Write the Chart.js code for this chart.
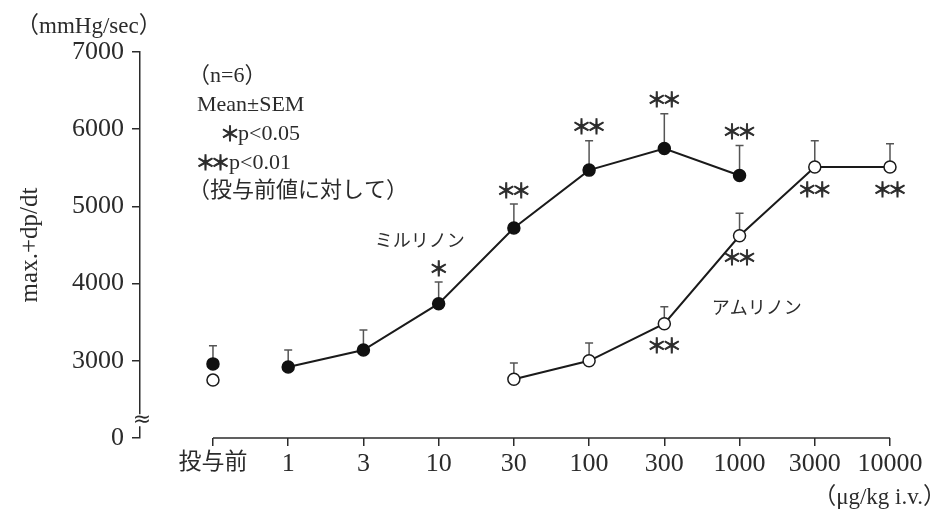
<!DOCTYPE html>
<html>
<head>
<meta charset="utf-8">
<script src="https://cdn.jsdelivr.net/npm/chart.js@4"></script>
<style>
  body { margin: 0; background: #fff; }
</style>
</head>
<body>
<canvas id="dpdtChart" width="946" height="513"></canvas>
<script>
// dose axis (category positions 0..9)
const doseLabels = ['投与前', '1', '3', '10', '30', '100', '300', '1000', '3000', '10000'];

// y axis is broken: 2000 is shown as "0"
const yTicks = [2000, 3000, 4000, 5000, 6000, 7000];
const yTickText = ['0', '3000', '4000', '5000', '6000', '7000'];

// ミルリノン (filled)
const milMean = [2960, 2920, 3140, 3740, 4720, 5470, 5750, 5400, null, null];
const milSem  = [235, 220, 260, 280, 310, 380, 450, 390, null, null];
const milSig  = ['', '', '', '*', '**', '**', '**', '**', '', ''];

// アムリノン (open)
const amrMean = [2750, null, null, null, 2760, 3000, 3480, 4620, 5510, 5510];
const amrSem  = [null, null, null, null, 210, 230, 220, 290, 340, 300];
const amrSig  = ['', '', '', '', '', '', '**', '**', '**', '**'];

const serif = "'Liberation Serif', 'Noto Sans CJK JP', serif";
const ink = '#2b2b2b';

function toXY(arr) {
  return arr.map((v, i) => ({ x: i, y: v }));
}

// draw a row of asterisks centred on x
function drawStars(ctx, str, cx, cy) {
  ctx.save();
  ctx.font = "20px 'Noto Sans CJK JP'";
  ctx.fillStyle = ink;
  ctx.strokeStyle = ink;
  ctx.lineWidth = 0.9;
  ctx.textAlign = 'center';
  ctx.textBaseline = 'middle';
  const step = 15;
  const start = cx - (str.length - 1) * step / 2;
  for (let i = 0; i < str.length; i++) {
    ctx.fillText('＊', start + i * step, cy);
    ctx.strokeText('＊', start + i * step, cy);
  }
  ctx.restore();
}

const extrasPlugin = {
  id: 'extras',
  beforeDatasetsDraw(chart) {
    const { ctx, scales: { x, y } } = chart;
    ctx.save();
    ctx.strokeStyle = '#555';
    ctx.lineWidth = 1.5;
    const bars = [[milMean, milSem], [amrMean, amrSem]];
    bars.forEach(([mean, sem]) => {
      mean.forEach((m, i) => {
        if (m == null || sem[i] == null) return;
        const px = x.getPixelForValue(i);
        const y0 = y.getPixelForValue(m);
        const y1 = y.getPixelForValue(m + sem[i]);
        ctx.beginPath();
        ctx.moveTo(px, y0);
        ctx.lineTo(px, y1);
        ctx.moveTo(px - 4, y1);
        ctx.lineTo(px + 4, y1);
        ctx.stroke();
      });
    });
    ctx.restore();
  },
  afterDraw(chart) {
    const { ctx, chartArea, scales: { x, y } } = chart;
    ctx.save();

    // x axis line, only from first to last dose
    ctx.strokeStyle = ink;
    ctx.lineWidth = 1.5;
    ctx.beginPath();
    ctx.moveTo(x.getPixelForValue(0), chartArea.bottom);
    ctx.lineTo(x.getPixelForValue(doseLabels.length - 1), chartArea.bottom);
    ctx.stroke();

    // axis break mark
    const by = y.getPixelForValue(2230);
    ctx.fillStyle = '#fff';
    ctx.fillRect(chartArea.left - 2, by - 6, 4, 12);
    ctx.fillStyle = ink;
    ctx.font = "22px 'DejaVu Sans'";
    ctx.textAlign = 'center';
    ctx.textBaseline = 'middle';
    ctx.fillText('≈', chartArea.left + 2, by);

    // significance marks
    milSig.forEach((s, i) => {
      if (!s) return;
      const top = y.getPixelForValue(milMean[i] + milSem[i]);
      drawStars(ctx, s, x.getPixelForValue(i), top - 14);
    });
    amrSig.forEach((s, i) => {
      if (!s) return;
      drawStars(ctx, s, x.getPixelForValue(i), y.getPixelForValue(amrMean[i]) + 22);
    });

    // unit + axis title
    ctx.fillStyle = ink;
    ctx.font = '23px ' + serif;
    ctx.textAlign = 'left';
    ctx.textBaseline = 'alphabetic';
    ctx.fillText('（mmHg/sec）', 16, 33);

    ctx.save();
    ctx.translate(37, 245);
    ctx.rotate(-Math.PI / 2);
    ctx.textAlign = 'center';
    ctx.font = '25px ' + serif;
    ctx.fillText('max.+dp/dt', 0, 0);
    ctx.restore();

    // notes block
    const nx = chartArea.left + 57;
    ctx.font = '22px ' + serif;
    ctx.fillText('（n=6）', nx - 9, 82);
    ctx.fillText('Mean±SEM', nx, 111);
    drawStars(ctx, '*', nx + 33, 133);
    ctx.font = '22px ' + serif;
    ctx.fillStyle = ink;
    ctx.textAlign = 'left';
    ctx.fillText('p<0.05', nx + 41, 140);
    drawStars(ctx, '**', nx + 16, 162);
    ctx.font = '22px ' + serif;
    ctx.fillStyle = ink;
    ctx.textAlign = 'left';
    ctx.fillText('p<0.01', nx + 32, 169);
    ctx.fillText('（投与前値に対して）', nx - 9, 197);

    // series names
    ctx.font = "18px 'Noto Sans CJK JP'";
    ctx.textAlign = 'center';
    ctx.textBaseline = 'middle';
    ctx.fillText('ミルリノン', x.getPixelForValue(2.75), y.getPixelForValue(4565));
    ctx.fillText('アムリノン', x.getPixelForValue(7.23), y.getPixelForValue(3697));

    // dose unit
    ctx.font = '23px ' + serif;
    ctx.textAlign = 'right';
    ctx.textBaseline = 'alphabetic';
    ctx.fillText('（μg/kg i.v.）', 946, 504);

    ctx.restore();
  }
};

new Chart(document.getElementById('dpdtChart'), {
  type: 'line',
  data: {
    datasets: [
      {
        label: 'ミルリノン',
        data: toXY(milMean),
        borderColor: '#1a1a1a',
        borderWidth: 2,
        pointRadius: 6,
        pointBackgroundColor: '#111',
        pointBorderColor: '#111',
        pointBorderWidth: 1.5,
        spanGaps: false,
        clip: false,
        // baseline point is not joined to the dose curve
        segment: {
          borderColor: c => c.p0DataIndex === 0 ? 'rgba(0,0,0,0)' : '#1a1a1a'
        }
      },
      {
        label: 'アムリノン',
        data: toXY(amrMean),
        borderColor: '#1a1a1a',
        borderWidth: 2,
        pointRadius: 6,
        pointBackgroundColor: '#fff',
        pointBorderColor: '#1a1a1a',
        pointBorderWidth: 1.5,
        spanGaps: false,
        clip: false
      }
    ]
  },
  options: {
    responsive: false,
    animation: false,
    layout: { padding: { top: 52, right: 56, bottom: 0, left: 0 } },
    plugins: {
      legend: { display: false },
      tooltip: { enabled: false }
    },
    scales: {
      x: {
        type: 'linear',
        min: -0.97,
        max: 9,
        afterBuildTicks: s => { s.ticks = doseLabels.map((_, i) => ({ value: i })); },
        afterFit: s => { s.height = 75; },
        ticks: {
          callback: v => doseLabels[v],
          font: c => ({ family: serif, size: c.index === 0 ? 23 : 26 }),
          color: ink,
          padding: 3,
          maxRotation: 0,
          autoSkip: false
        },
        grid: { drawOnChartArea: false, tickLength: 8, color: ink, lineWidth: 1.5 },
        border: { display: false }
      },
      y: {
        type: 'linear',
        min: 2000,
        max: 7000,
        afterBuildTicks: s => { s.ticks = yTicks.map(v => ({ value: v })); },
        afterFit: s => { s.width = 140; },
        ticks: {
          callback: (v, i) => yTickText[i],
          font: { family: serif, size: 26 },
          color: ink,
          padding: 8
        },
        grid: { drawOnChartArea: false, tickLength: 8, color: ink, lineWidth: 1.5 },
        border: { display: true, color: ink, width: 1.5 }
      }
    }
  },
  plugins: [extrasPlugin]
});
</script>
</body>
</html>
